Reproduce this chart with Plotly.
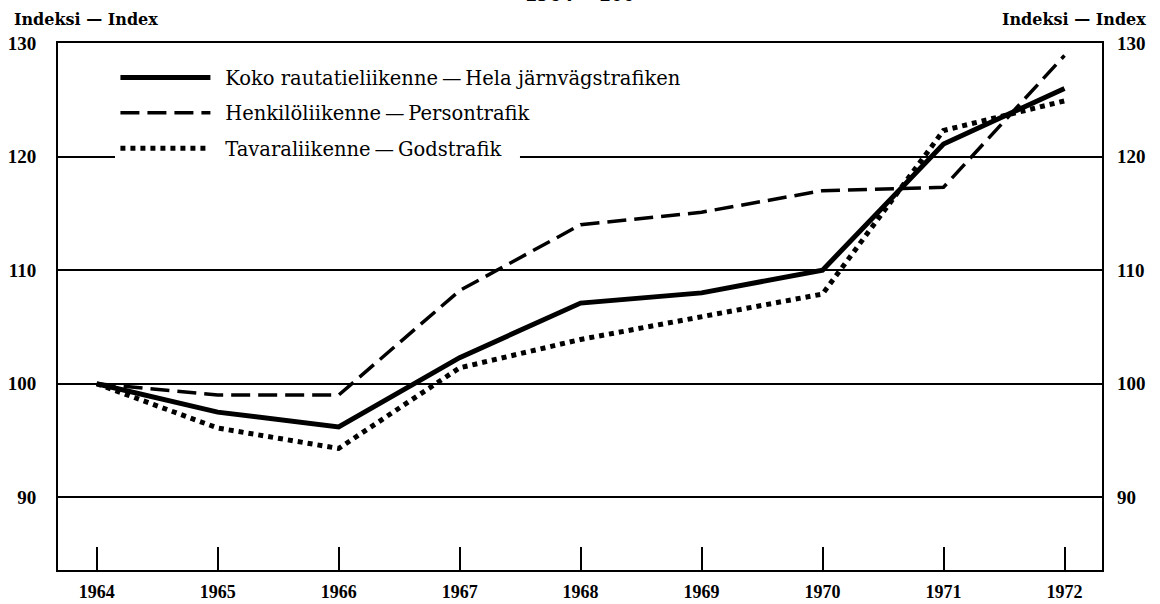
import plotly.graph_objects as go

years = [1964, 1965, 1966, 1967, 1968, 1969, 1970, 1971, 1972]
koko = [100, 97.5, 96.2, 102.3, 107.1, 108.0, 110.0, 121.1, 126.0]
henkilo = [100, 99.0, 99.0, 108.2, 114.0, 115.1, 117.0, 117.3, 128.9]
tavara = [100, 96.1, 94.3, 101.4, 103.9, 105.9, 107.9, 122.3, 124.9]

names = ["\u2002Koko rautatieliikenne\u2009—\u2009Hela järnvägstrafiken",
         "\u2002Henkilöliikenne\u2009—\u2009Persontrafik",
         "\u2002Tavaraliikenne\u2009—\u2009Godstrafik"]

serif = "DejaVu Serif, Liberation Serif, serif"
num = dict(family="Liberation Serif, serif", size=19, weight="bold", color="black")
head = dict(family=serif, size=16, weight="bold", color="black")

fig = go.Figure()
fig.add_trace(go.Scatter(x=years, y=koko, mode="lines", name=names[0],
                         line=dict(color="black", width=5), legendgroup="a"))
fig.add_trace(go.Scatter(x=years, y=henkilo, mode="lines", name=names[1],
                         line=dict(color="black", width=3.5, dash="19px,8px"), legendgroup="b"))
fig.add_trace(go.Scatter(x=years, y=tavara, mode="lines", name=names[2],
                         line=dict(color="black", width=5, dash="5px,5px"), legendgroup="c"))
# right-hand axis copy
fig.add_trace(go.Scatter(x=years, y=koko, yaxis="y2", mode="lines", showlegend=False,
                         hoverinfo="skip", line=dict(color="rgba(0,0,0,0)")))

fig.update_layout(
    width=1160, height=604,
    margin=dict(l=58, r=58, t=43, b=34),
    paper_bgcolor="white", plot_bgcolor="white",
    font=dict(family=serif, color="black"),
    showlegend=True,
    legend=dict(x=0.055, y=0.971, xanchor="left", yanchor="top",
                bgcolor="rgba(0,0,0,0)", font=dict(size=19.5, family=serif),
                itemwidth=90, tracegroupgap=7, traceorder="grouped"),
    xaxis=dict(range=[1963.68, 1972.31], tickvals=years, ticks="inside",
               ticklen=23, tickwidth=2, tickcolor="black", showgrid=False,
               showline=True, linecolor="black", linewidth=2, mirror=True,
               zeroline=False, tickfont=dict(num, size=18), ticklabelstandoff=4,
               automargin=False),
    yaxis=dict(range=[83.6, 130], tickvals=[90, 100, 110, 120, 130], ticks="",
               showgrid=True, gridcolor="black", gridwidth=1.6,
               showline=True, linecolor="black", linewidth=2, mirror=True,
               zeroline=False, tickfont=num, ticklabelstandoff=16, automargin=False),
    yaxis2=dict(range=[83.6, 130], tickvals=[90, 100, 110, 120, 130], ticks="",
                overlaying="y", side="right", showgrid=False, zeroline=False,
                tickfont=num, ticklabelstandoff=14, automargin=False),
    # white strip hides the 120 gridline behind the lower legend row
    shapes=[dict(type="rect", xref="paper", yref="y", x0=0.0546, x1=0.4425,
                 y0=119.5, y1=120.5, fillcolor="white", line=dict(width=0),
                 layer="above")],
    annotations=[
        dict(text="Indeksi — Index", xref="paper", yref="paper", x=-0.044, y=1.023,
             xanchor="left", yanchor="bottom", showarrow=False, font=head),
        dict(text="Indeksi — Index", xref="paper", yref="paper", x=1.044, y=1.023,
             xanchor="right", yanchor="bottom", showarrow=False, font=head),
        dict(text="1964 = 100", xref="paper", yref="paper", x=0.5, y=1.066,
             xanchor="center", yanchor="bottom", showarrow=False,
             font=dict(num, size=24)),
    ],
)

fig.write_html("out.html", config={"displayModeBar": False},
               post_script="document.body.style.margin='0';")
